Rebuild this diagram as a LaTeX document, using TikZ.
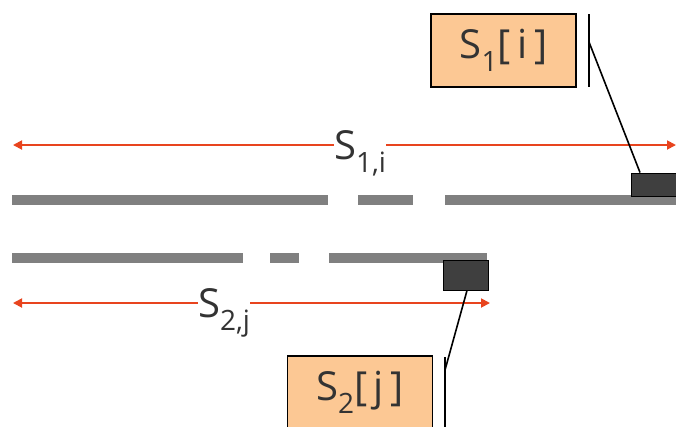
\documentclass[tikz,border=0pt]{standalone}
\usepackage{fontspec}
\setmainfont{Open Sans}
\usetikzlibrary{arrows.meta}
\definecolor{boxfill}{HTML}{FCC894}
\definecolor{arrred}{HTML}{E8441E}
\definecolor{bargrey}{HTML}{808080}
\definecolor{blockdark}{HTML}{3F3F3F}
\newcommand{\subx}[1]{\raisebox{-0.32em}{\fontsize{28}{30}\selectfont #1}}
\tikzset{
  labelbox/.style={draw=black, line width=1.5pt, fill=boxfill, minimum width=145pt, minimum height=73pt, inner sep=0pt, font=\fontsize{40}{44}\selectfont, text=black!80},
  rangetxt/.style={inner sep=0pt, font=\fontsize{40}{44}\selectfont, text=black!80},
  segbar/.style={line width=10pt, bargrey},
  blockbox/.style={draw=black, line width=1pt, fill=blockdark, inner sep=0pt},
  redline/.style={arrred, line width=1.8pt},
  redtip/.style={-{Triangle[length=9pt,width=9pt]}},
  leader/.style={black, line width=1.6pt}
}
\begin{document}
\begin{tikzpicture}[x=1pt,y=-1pt]
\useasboundingbox (0,0) rectangle (676,426);
\clip (0,0) rectangle (676,426);
% ---- upper sequence
\draw[segbar] (12,200) -- (328,200);
\draw[segbar] (358,200) -- (413,200);
\draw[segbar] (445,200) -- (676,200);
\node[blockbox, minimum width=49pt, minimum height=23pt] (blk1) at (655.5,184.5) {};
\node[rangetxt] (lab1) at (360,153) {S\subx{1,i}};
\coordinate (l1) at (13,145);
\coordinate (r1) at (676,145);
\draw[redline, redtip] (lab1.west |- l1) -- (l1);
\draw[redline, redtip] (lab1.east |- r1) -- (r1);
\node[labelbox] (box1) at (503.5,50.5) {S\subx{1}[\,i\,]};
\coordinate (v1t) at (589,14);
\coordinate (v1b) at (589,87);
\draw[leader] (v1t) -- (v1b);
\coordinate (v1m) at (589,42);
\draw[leader] (v1m) -- (blk1.north west -| 640,173);
% ---- lower sequence
\draw[segbar] (12,258) -- (243,258);
\draw[segbar] (270,258) -- (299,258);
\draw[segbar] (329,258) -- (487,258);
\node[blockbox, minimum width=45pt, minimum height=30pt] (blk2) at (465.5,275) {};
\node[rangetxt] (lab2) at (224,313) {S\subx{2,j}};
\coordinate (l2) at (13,303);
\coordinate (r2) at (490,303);
\draw[redline, redtip] (lab2.west |- l2) -- (l2);
\draw[redline, redtip] (lab2.east |- r2) -- (r2);
\node[labelbox] (box2) at (360,392.5) {S\subx{2}[\,j\,]};
\coordinate (v2t) at (445,357);
\coordinate (v2b) at (445,430);
\draw[leader] (v2t) -- (v2b);
\coordinate (v2m) at (445,370);
\draw[leader] (blk2.south -| 467,290) -- (v2m);
\end{tikzpicture}
\end{document}
